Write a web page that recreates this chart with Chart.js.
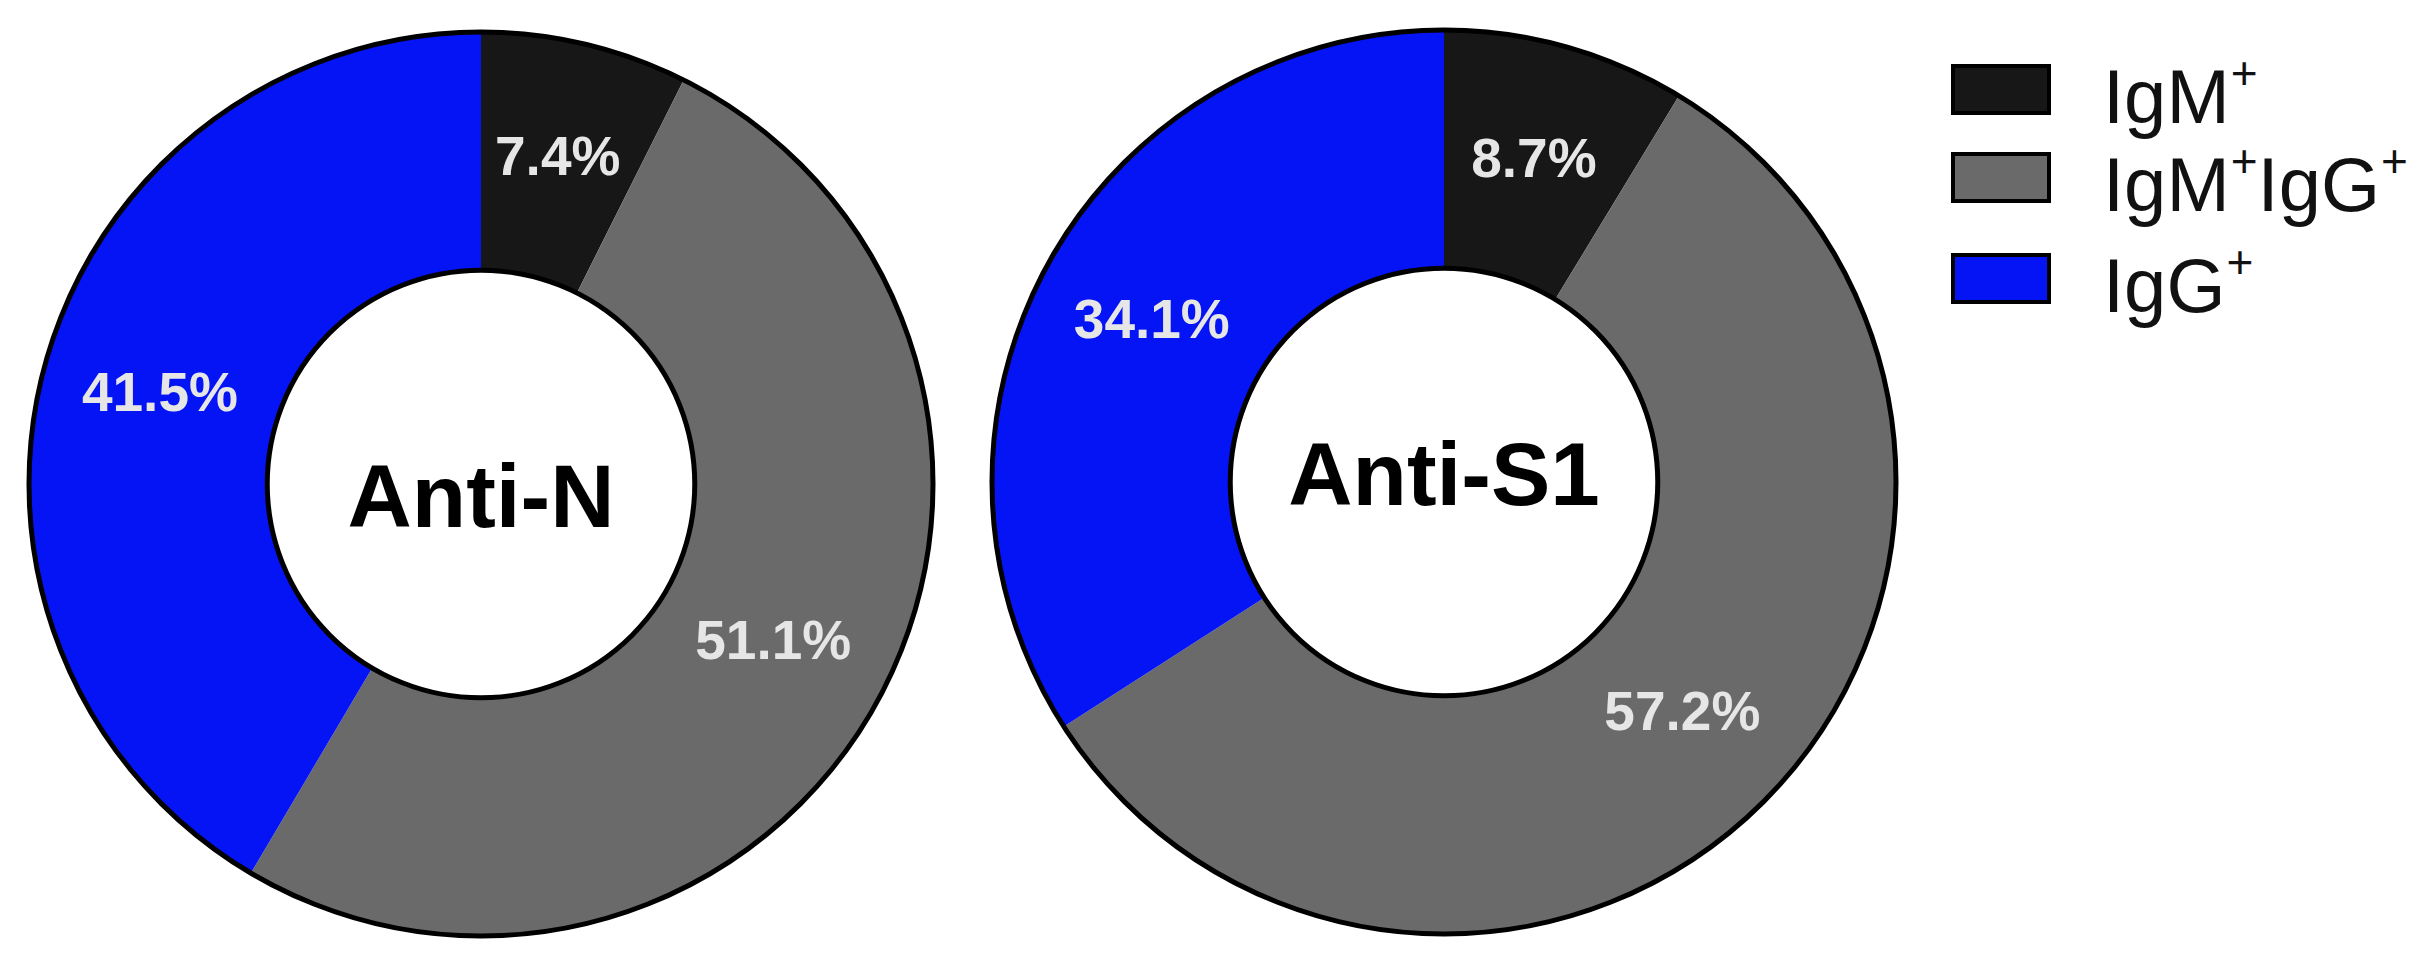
<!DOCTYPE html>
<html>
<head>
<meta charset="utf-8">
<script src="https://cdn.jsdelivr.net/npm/chart.js@4.4.1/dist/chart.umd.min.js"></script>
<style>
  html, body { margin: 0; padding: 0; background: #ffffff; overflow: hidden; }
  body { width: 2433px; height: 961px; position: relative; font-family: "Liberation Sans", Arial, sans-serif; }
  .box { position: absolute; width: 960px; height: 960px; }
  #legend { position: absolute; left: 1951px; top: 0; }
  .lg-row { position: absolute; left: 0; display: flex; align-items: center; white-space: nowrap; }
  .lg-swatch { width: 92px; height: 43px; border: 4px solid #000; box-sizing: content-box; }
  .lg-text { margin-left: 52px; font-size: 76px; color: #111; line-height: 1; position: relative; top: 8px; }
  .lg-text sup { font-size: 46px; vertical-align: 0; position: relative; top: -34px; margin-left: 1px; }
</style>
</head>
<body>
<div class="box" id="box1" style="left:1px; top:4px;"><canvas id="c1" width="960" height="960"></canvas></div>
<div class="box" id="box2" style="left:964px; top:2px;"><canvas id="c2" width="960" height="960"></canvas></div>
<div id="legend"></div>
<script>
// ---- data ----
const categories = ['IgM\u207A', 'IgM\u207AIgG\u207A', 'IgG\u207A'];
const antiNValues = [7.4, 51.1, 41.5];
const antiS1Values = [8.7, 57.2, 34.1];
const chartTitles = ['Anti-N', 'Anti-S1'];
const segmentColors = ['#171717', '#6a6a6a', '#0514f5'];

// ---- plugins ----
const ringOutline = {
  id: 'ringOutline',
  afterDatasetsDraw(chart) {
    const arc = chart.getDatasetMeta(0).data[0];
    if (!arc) return;
    const p = arc.getProps(['x', 'y', 'outerRadius', 'innerRadius'], true);
    const ctx = chart.ctx;
    ctx.save();
    ctx.strokeStyle = '#000';
    ctx.lineWidth = 5;
    ctx.beginPath(); ctx.arc(p.x, p.y, p.outerRadius, 0, Math.PI * 2); ctx.stroke();
    ctx.beginPath(); ctx.arc(p.x, p.y, p.innerRadius, 0, Math.PI * 2); ctx.stroke();
    ctx.restore();
  }
};

const sliceLabels = {
  id: 'sliceLabels',
  afterDatasetsDraw(chart) {
    const ds = chart.data.datasets[0];
    const meta = chart.getDatasetMeta(0);
    const ctx = chart.ctx;
    ctx.save();
    ctx.font = 'bold 55px "Liberation Sans", Arial, sans-serif';
    ctx.fillStyle = '#e6e6e6';
    ctx.textAlign = 'center';
    ctx.textBaseline = 'middle';
    meta.data.forEach((arc, i) => {
      const pos = arc.tooltipPosition(true);
      ctx.fillText(ds.data[i].toFixed(1) + '%', pos.x, pos.y);
    });
    ctx.restore();
  }
};

const centerTitle = {
  id: 'centerTitle',
  afterDatasetsDraw(chart, args, opts) {
    const arc = chart.getDatasetMeta(0).data[0];
    if (!arc) return;
    const p = arc.getProps(['x', 'y'], true);
    const ctx = chart.ctx;
    ctx.save();
    ctx.font = 'bold 89px "Liberation Sans", Arial, sans-serif';
    ctx.fillStyle = '#000';
    ctx.textAlign = 'center';
    ctx.textBaseline = 'middle';
    ctx.fillText(opts.text, p.x, p.y + (opts.dy || 0));
    ctx.restore();
  }
};

function makeChart(id, values, title, dy) {
  return new Chart(document.getElementById(id), {
    type: 'doughnut',
    data: {
      labels: categories,
      datasets: [{
        data: values,
        backgroundColor: segmentColors,
        borderWidth: 0
      }]
    },
    options: {
      responsive: false,
      animation: false,
      devicePixelRatio: 1,
      radius: 452,
      cutout: 227,
      rotation: 0,
      layout: { padding: 0 },
      plugins: {
        legend: { display: false },
        tooltip: { enabled: false },
        centerTitle: { text: title, dy: dy }
      }
    },
    plugins: [ringOutline, sliceLabels, centerTitle]
  });
}

makeChart('c1', antiNValues, chartTitles[0], 18);
makeChart('c2', antiS1Values, chartTitles[1], -2);

// ---- HTML legend ----
const legendRowTops = [51, 139, 240];
const legend = document.getElementById('legend');
categories.forEach((c, i) => {
  const row = document.createElement('div');
  row.className = 'lg-row';
  row.style.top = legendRowTops[i] + 'px';
  const sw = document.createElement('div');
  sw.className = 'lg-swatch';
  sw.style.background = segmentColors[i];
  const tx = document.createElement('div');
  tx.className = 'lg-text';
  tx.innerHTML = c.replace(/\u207A/g, '<sup>+</sup>');
  row.appendChild(sw);
  row.appendChild(tx);
  legend.appendChild(row);
});
</script>
</body>
</html>
